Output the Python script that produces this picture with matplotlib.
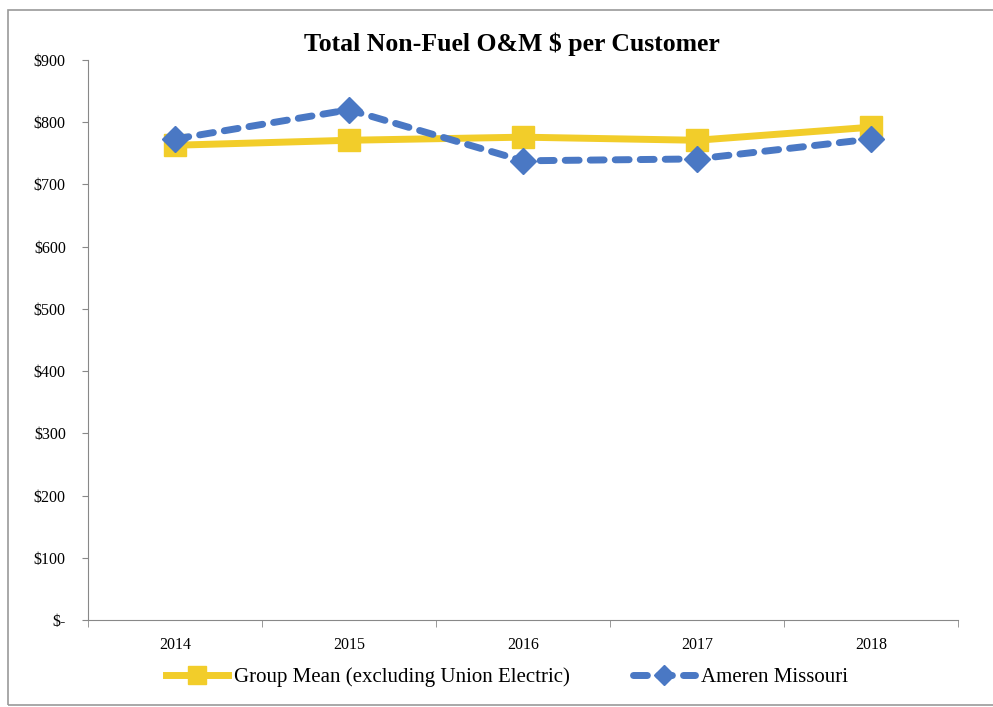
import matplotlib
matplotlib.use("Agg")
import matplotlib.pyplot as plt
from matplotlib.patches import Rectangle

years = ["2014", "2015", "2016", "2017", "2018"]
group_mean = [763, 771, 776, 771, 792]
ameren = [773, 820, 738, 741, 773]
yticks = [0, 100, 200, 300, 400, 500, 600, 700, 800, 900]
ytick_labels = ["$-", "$100", "$200", "$300", "$400", "$500", "$600", "$700", "$800", "$900"]

plt.rcParams['font.family'] = ['Liberation Serif', 'DejaVu Serif']

fig = plt.figure(figsize=(9.93, 7.07), dpi=100)
fig.patches.append(Rectangle((8/993, 2/707), 1.2, 1 - 12/707, transform=fig.transFigure,
                             fill=False, edgecolor="#9a9a9a", linewidth=1.2))
ax = fig.add_axes([88/993, 1 - 620/707, (958 - 88)/993, (620 - 60)/707])

x = list(range(len(years)))
yellow = "#F2CD2A"
blue = "#4A78C4"
ax.plot(x, group_mean, color=yellow, linewidth=5, marker="s", markersize=16,
        label="Group Mean (excluding Union Electric)", zorder=3)
ax.plot(x, ameren, color=blue, linewidth=5, linestyle=(0, (2.0, 1.6)), marker="D",
        markersize=13, label="Ameren Missouri", zorder=4, dash_capstyle="round")

ax.set_xlim(-0.5, len(years) - 0.5)
ax.set_ylim(0, 900)
ax.set_yticks(yticks)
ax.set_yticklabels(ytick_labels, fontsize=11.5)
ax.set_xticks(x)
ax.set_xticklabels(years, fontsize=11.5)
ax.tick_params(axis="x", length=0, pad=12)
ax.set_xticks([i - 0.5 for i in range(len(years) + 1)], minor=True)
ax.tick_params(axis="x", which="minor", length=5, color="#888888", direction="out")
ax.tick_params(axis="y", length=4, color="#888888", pad=12)
for s in ["top", "right"]:
    ax.spines[s].set_visible(False)
for s in ["left", "bottom"]:
    ax.spines[s].set_color("#888888")

fig.text(512/993, 1 - 44/707, "Total Non-Fuel O&M $ per Customer", ha="center", va="center",
         fontsize=18.5, fontweight="bold")
fig.legend(loc="center", bbox_to_anchor=(507/993, 1 - 677/707), ncol=2, frameon=False,
           fontsize=15, handlelength=3.0, columnspacing=3, handletextpad=0.3, markerscale=0.8)

fig.savefig("out.png", dpi=100)
